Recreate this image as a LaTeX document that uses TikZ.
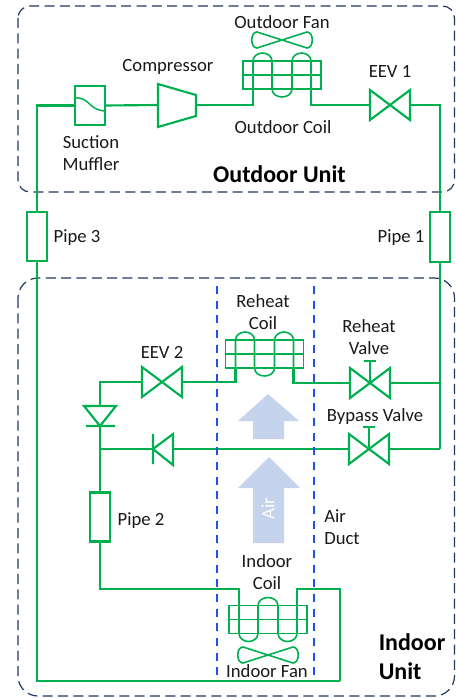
\documentclass[tikz,border=0pt]{standalone}
\usepackage{fontspec}
\setmainfont{Carlito}
\definecolor{pipegreen}{HTML}{00B050}
\definecolor{unitblue}{HTML}{1F3864}
\definecolor{ductblue}{HTML}{1F4FF0}
\definecolor{airblue}{HTML}{C5D3EC}
\tikzset{
  x=0.75pt,y=-0.75pt,
  pipe/.style={draw=pipegreen,line width=1.6pt,line join=miter},
  thinpipe/.style={draw=pipegreen,line width=1.2pt},
  unitbox/.style={draw=unitblue,line width=0.9pt,dash pattern=on 7.5pt off 4pt},
  duct/.style={draw=ductblue,line width=1.6pt,dash pattern=on 6pt off 5pt},
  lbl/.style={font=\fontsize{14pt}{16.5pt}\selectfont,inner sep=0pt,align=center,text=black!90},
  lblb/.style={font=\fontsize{18pt}{21.75pt}\selectfont\bfseries,inner sep=0pt,align=left,text=black},
  valvebox/.style={inner sep=0pt,outer sep=0pt,minimum width=30pt,minimum height=23pt},
  pipebox/.style={pipe,fill=white,inner sep=0pt,outer sep=0pt,minimum width=15pt,minimum height=37pt},
  valvepic/.pic={
    \draw[pipe] (-20,-15) -- (20,15) -- (20,-15) -- (-20,15) -- cycle;
  },
  stempic/.pic={
    \draw[pipe] (0,0) -- (0,-22);
    \draw[pipe] (-6,-22) -- (6,-22);
  },
  coilpic/.pic={
    \draw[thinpipe] (-39,-14) rectangle (39,14) (-39,0) -- (39,0);
    \draw[pipe,line width=1.2pt] (-29,14) -- (-29,-14)
      .. controls (-29,-19) and (-24,-22) .. (-19.5,-22)
      .. controls (-15,-22) and (-10,-19) .. (-10,-14) -- (-10,14)
      .. controls (-10,19) and (-5,22) .. (0,22)
      .. controls (5,22) and (10,19) .. (10,14) -- (10,-14)
      .. controls (10,-19) and (15,-22) .. (19.5,-22)
      .. controls (24,-22) and (29,-19) .. (29,-14) -- (29,14);
    \coordinate (-a) at (-29,14);
    \coordinate (-b) at (29,14);
  },
  fanpic/.pic={
    \draw[thinpipe] (0,0) -- (-25,-8) .. controls (-32,-8) and (-32,8) .. (-25,8)
      -- (25,-8) .. controls (32,-8) and (32,8) .. (25,8) -- cycle;
  },
  airarrow/.style={fill=airblue,draw=none},
}
\begin{document}
\begin{tikzpicture}
\useasboundingbox (0,0) rectangle (455,698);
% unit outlines
\draw[unitbox,rounded corners=9pt] (18,6) rectangle (454.5,192);
\draw[unitbox,rounded corners=15pt] (18,278) rectangle (454.5,696);
% air arrows
\fill[airarrow] (268,394) -- (299,421) -- (284,421) -- (284,439) -- (253,439) -- (253,421) -- (238,421) -- cycle;
\fill[airarrow] (269,457) -- (300,488) -- (284,488) -- (284,543) -- (253,543) -- (253,488) -- (238,488) -- cycle;
\node[font=\fontsize{14pt}{16pt}\selectfont,text=white,rotate=90,inner sep=0pt] (air) at (268,509) {Air};
% components
\node[valvebox] (eevone) at (390,105) {};
\pic at (390,105) {valvepic};
\node[valvebox] (eevtwo) at (162,382) {};
\pic at (162,382) {valvepic};
\node[valvebox] (rvalve) at (370,383) {};
\pic at (370,383) {valvepic};
\pic at (370,383) {stempic};
\node[valvebox] (bvalve) at (369,449) {};
\pic at (369,449) {valvepic};
\pic at (369,449) {stempic};
\pic (ocoil) at (282,75) {coilpic};
\pic (rcoil) at (264.5,354) {coilpic};
\pic[yscale=-1] (icoil) at (268,619.5) {coilpic};
\pic at (282,40) {fanpic};
\pic at (268,655) {fanpic};
\node[pipe,inner sep=0pt,outer sep=0pt,minimum width=22.5pt,minimum height=29pt] (muffler) at (90,105.5) {};
\draw[pipe,line width=1.1pt] (muffler.west |- 0,98) .. controls (90,97) and (88,110) .. (muffler.east |- 0,111);
\node[pipebox] (pipethree) at (37,236.5) {};
\node[pipebox] (pipeone) at (440,237) {};
\node[pipebox,line width=2pt] (pipetwo) at (100,517) {};
\node[inner sep=0pt,outer sep=0pt,minimum width=28.5pt,minimum height=29pt] (comp) at (177,105) {};
\draw[pipe] (158,84) -- (196,95) -- (196,116) -- (158,127) -- cycle;
% diode and check valve
\coordinate (dtop) at (100,406);
\coordinate (dbot) at (100,426);
\draw[pipe] (84,406) -- (116,406) -- (dbot) -- cycle (86,426) -- (115,426);
\coordinate (cleft) at (153,449);
\coordinate (cright) at (173,449);
\draw[pipe] (173,434) -- (cleft) -- (173,465) -- cycle (153,434) -- (153,464);
% junctions
\coordinate (jl) at (100,449);
\coordinate (jr) at (440,449);
\coordinate (jm) at (440,383);
\coordinate (corner) at (37,681);
\coordinate (cornerb) at (340,681);
\coordinate (ileft) at (239,589);
\coordinate (iright) at (297,589);
\coordinate (ifar) at (340,589);
% piping
\draw[pipe] (pipethree.north) |- (muffler.west);
\draw[pipe] (muffler.east) -- (158,105);
\draw[pipe] (196,105) -| (ocoil-a);
\draw[pipe] (ocoil-b) |- (eevone.west);
\draw[pipe] (eevone.east) -| (pipeone.north);
\draw[pipe] (pipeone.south) -- (jr);
\draw[pipe] (rvalve.east) -- (jm);
\draw[pipe] (bvalve.east) -- (jr);
\draw[pipe] (rcoil-b) |- (rvalve.west);
\draw[pipe] (rcoil-a) |- (eevtwo.east);
\draw[pipe] (eevtwo.west) -| (dtop);
\draw[pipe] (dbot) -- (pipetwo.north);
\draw[pipe] (bvalve.west) -- (cright);
\draw[pipe] (cleft) -- (jl);
\draw[pipe] (pipetwo.south) |- (ileft) -- (icoil-a);
\draw[pipe] (icoil-b) -- (iright) -- (ifar) -- (cornerb);
\draw[pipe] (cornerb) -- (corner) -- (pipethree.south);
% duct
\coordinate (dla) at (217,286);
\coordinate (dlb) at (217,680);
\coordinate (dra) at (314,286);
\coordinate (drb) at (314,680);
\draw[duct] (dla) -- (dlb);
\draw[duct] (dra) -- (drb);
% labels
\node[lbl] (toutfan) at (282,22) {Outdoor Fan};
\node[lbl] (tcomp) at (168,67) {Compressor};
\node[lbl] (tmuff) at (91,153) {Suction\\Muffler};
\node[lbl] (toutcoil) at (283,127) {Outdoor Coil};
\node[lbl] (teevone) at (390,71) {EEV 1};
\node[lblb] (toutunit) at (279.5,174) {Outdoor Unit};
\node[lbl] (tpthree) at (77,238) {Pipe 3};
\node[lbl] (tpone) at (401,238) {Pipe 1};
\node[lbl] (trcoil) at (263,312) {Reheat\\Coil};
\node[lbl] (teevtwo) at (162,352) {EEV 2};
\node[lbl] (trvalve) at (369,337) {Reheat\\Valve};
\node[lbl] (tbvalve) at (375,417) {Bypass Valve};
\node[lbl] (tptwo) at (141,521) {Pipe 2};
\node[lbl,align=left] (tduct) at (342,527) {Air\\Duct};
\node[lbl] (ticoil) at (267,572) {Indoor\\Coil};
\node[lbl] (tifan) at (267,671) {Indoor Fan};
\node[lblb] (tiunit) at (412,657) {Indoor\\Unit};
\end{tikzpicture}
\end{document}
